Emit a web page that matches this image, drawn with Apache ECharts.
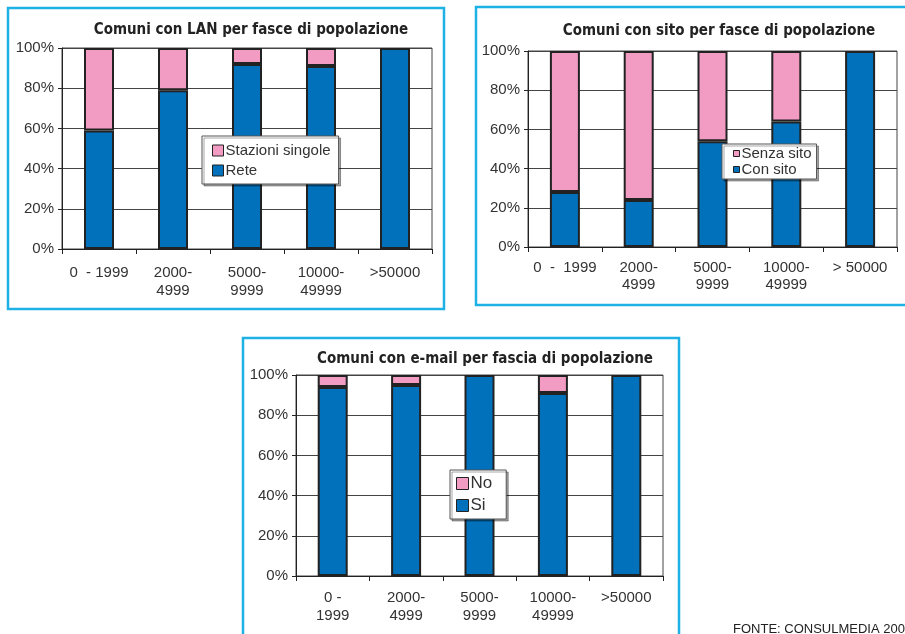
<!DOCTYPE html>
<html>
<head>
<meta charset="utf-8">
<script src="https://cdn.jsdelivr.net/npm/echarts@6/dist/echarts.min.js"></script>
<style>
html,body{margin:0;padding:0;background:#fff;}
#c{width:905px;height:634px;}
</style>
</head>
<body>
<div id="c"></div>
<script>
// ---- Data ----
const lanCategories = ['0  - 1999', '2000-\n4999', '5000-\n9999', '10000-\n49999', '>50000'];
const lanRete = [59, 79, 92, 91, 100];
const lanStazioni = [41, 21, 8, 9, 0];

const sitoCategories = ['0  -  1999', '2000-\n4999', '5000-\n9999', '10000-\n49999', '> 50000'];
const sitoCon = [28, 24, 54, 64, 100];
const sitoSenza = [72, 76, 46, 36, 0];

const mailCategories = ['0 -\n1999', '2000-\n4999', '5000-\n9999', '10000-\n49999', '>50000'];
const mailSi = [94, 95, 100, 91, 100];
const mailNo = [6, 5, 0, 9, 0];

const yTicks = [0, 20, 40, 60, 80, 100];

const titles = [
  'Comuni con LAN per fasce di popolazione',
  'Comuni con sito per fasce di popolazione',
  'Comuni con e-mail per fascia di popolazione'
];
const footer = 'FONTE: CONSULMEDIA 2002';

// ---- Styles ----
const BLUE = '#0071BA';
const PINK = '#F29BC3';
const CYAN = '#1DB1E6';
const LABEL_FONT = '"Liberation Sans", Arial, sans-serif';
const TITLE_FONT = '"DejaVu Sans Condensed", sans-serif';

const chart = echarts.init(document.getElementById('c'), null, {renderer: 'canvas'});

const grids = [
  {left: 62, top: 48, width: 370, height: 201},
  {left: 528, top: 51, width: 369, height: 196},
  {left: 296, top: 375, width: 367, height: 201}
];
const xMargins = [15, 12, 13];
const xLineHeights = [18, 17, 18];
const cats = [lanCategories, sitoCategories, mailCategories];

function xAxis(i) {
  return {
    type: 'category', gridIndex: i, data: cats[i],
    axisLine: {show: true, lineStyle: {color: '#222', width: 1}},
    axisTick: {show: true, length: 5, lineStyle: {color: '#222'}},
    axisLabel: {fontFamily: LABEL_FONT, fontSize: 15, color: '#333', margin: xMargins[i], lineHeight: xLineHeights[i], interval: 0}
  };
}
function yAxis(i) {
  return {
    type: 'value', gridIndex: i, min: yTicks[0], max: yTicks[yTicks.length - 1], interval: yTicks[1] - yTicks[0],
    axisLine: {show: true, lineStyle: {color: '#222', width: 1}},
    axisTick: {show: true, length: 4, lineStyle: {color: '#222'}},
    splitLine: {show: true, lineStyle: {color: '#444', width: 1}},
    axisLabel: {fontFamily: LABEL_FONT, fontSize: 15, color: '#333', margin: 8, formatter: '{value}%'}
  };
}
function bar(name, data, i, color) {
  return {
    type: 'bar', name: name, xAxisIndex: i, yAxisIndex: i, stack: 's' + i,
    data: data.map(v => v === 0 ? {value: v, itemStyle: {borderWidth: 0}} : v),
    barWidth: 30,
    itemStyle: {color: color, borderColor: '#222', borderWidth: 2},
    emphasis: {disabled: true}
  };
}
function legend(names, left, top, iw, ih, gap, pad, fs) {
  return {
    orient: 'vertical', left: left, top: top, data: names,
    itemWidth: iw, itemHeight: ih, itemGap: gap, padding: pad,
    icon: 'rect',
    backgroundColor: '#fff', borderColor: '#555', borderWidth: 1,
    shadowColor: 'rgba(0,0,0,0.35)', shadowOffsetX: 2, shadowOffsetY: 2, shadowBlur: 0,
    itemStyle: {borderColor: '#222', borderWidth: 1},
    textStyle: {fontFamily: LABEL_FONT, fontSize: fs, color: '#333', padding: [0, 0, 0, -3]},
    selectedMode: false
  };
}

const option = {
  animation: false,
  backgroundColor: '#fff',
  title: [
    {text: titles[0], left: 246, top: 18, textAlign: 'center'},
    {text: titles[1], left: 714, top: 19, textAlign: 'center'},
    {text: titles[2], left: 480, top: 347, textAlign: 'center'}
  ].map(t => Object.assign(t, {textStyle: {fontFamily: TITLE_FONT, fontWeight: 'bold', fontSize: 15, color: '#222'}})),
  grid: grids.map(g => Object.assign({show: true, borderColor: '#444', borderWidth: 1, backgroundColor: 'transparent'}, g)),
  xAxis: [xAxis(0), xAxis(1), xAxis(2)],
  yAxis: [yAxis(0), yAxis(1), yAxis(2)],
  legend: [
    legend(['Stazioni singole', 'Rete'], 202, 136, 11, 11, 5, [7, 8, 6, 10], 15),
    legend(['Senza sito', 'Con sito'], 722, 144, 6, 6, 1, [2, 5, 2, 11], 15),
    legend(['No', 'Si'], 450, 470, 12, 12, 5, [5, 14, 5, 6], 17)
  ],
  series: [
    bar('Rete', lanRete, 0, BLUE),
    bar('Stazioni singole', lanStazioni, 0, PINK),
    bar('Con sito', sitoCon, 1, BLUE),
    bar('Senza sito', sitoSenza, 1, PINK),
    bar('Si', mailSi, 2, BLUE),
    bar('No', mailNo, 2, PINK)
  ],
  graphic: [
    {type: 'rect', shape: {x: 8, y: 8, width: 436, height: 301}, style: {fill: 'none', stroke: CYAN, lineWidth: 2.5}, z: 100},
    {type: 'rect', shape: {x: 476, y: 7, width: 440, height: 298}, style: {fill: 'none', stroke: CYAN, lineWidth: 2.5}, z: 100},
    {type: 'rect', shape: {x: 243, y: 338, width: 436, height: 310}, style: {fill: 'none', stroke: CYAN, lineWidth: 2.5}, z: 100},
    {type: 'text', left: 733, top: 623, style: {text: footer, font: '13px ' + LABEL_FONT, fill: '#222'}, z: 100}
  ]
};
chart.setOption(option);
</script>
</body>
</html>
